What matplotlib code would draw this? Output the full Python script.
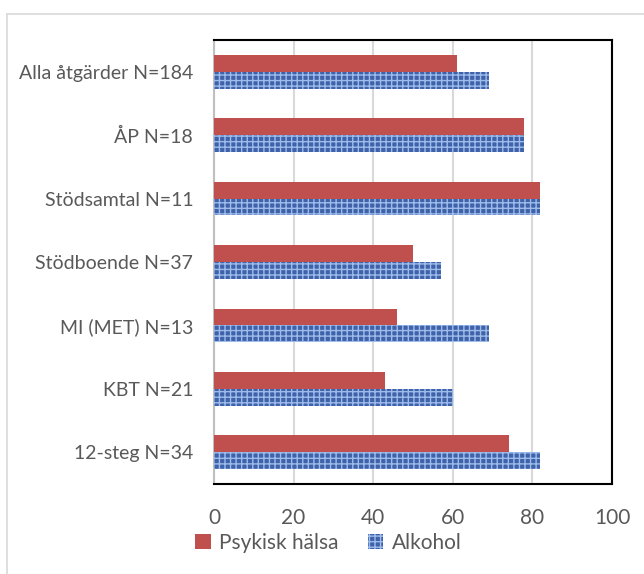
import numpy as np
import matplotlib.pyplot as plt
from matplotlib.patches import Patch
from matplotlib.lines import Line2D

categories = ['Alla åtgärder N=184', 'ÅP N=18', 'Stödsamtal N=11', 'Stödboende N=37',
              'MI (MET) N=13', 'KBT N=21', '12-steg N=34']
psykisk = [61, 78, 82, 50, 46, 43, 74]
alkohol = [69, 78, 82, 57, 69, 60, 82]
xticks = [0, 20, 40, 60, 80, 100]

red = '#c0504d'
blue = '#3f62a8'
txt = '#595959'

plt.rcParams['font.family'] = ['Lato', 'DejaVu Sans']
plt.rcParams['hatch.linewidth'] = 1.0

fig = plt.figure(figsize=(6.44, 5.74), dpi=100)
ax = fig.add_axes([214/644, 90/574, 398/644, 444/574])

y = np.arange(len(categories))
h = 0.265
ax.barh(y - h/2, psykisk, height=h, color=red, zorder=3)
ax.barh(y + h/2, alkohol, height=h, color=blue, edgecolor='#9dbcec', hatch='+++', lw=0, zorder=3)

ax.set_ylim(len(categories) - 0.5, -0.5)
ax.set_xlim(0, 100)
ax.set_yticks(y)
ax.set_yticklabels(categories)
ax.set_xticks(xticks)
ax.tick_params(axis='y', length=0, labelsize=14, colors=txt, pad=15)
ax.tick_params(axis='x', length=0, labelsize=15, colors=txt, pad=17)
ax.grid(axis='x', color='#d9d9d9', lw=1.5, zorder=0)
for s in ['top', 'right', 'bottom']:
    ax.spines[s].set_color('black')
    ax.spines[s].set_linewidth(1.5)
ax.spines['left'].set_color('#bfbfbf')
ax.spines['left'].set_linewidth(1.5)

# outer chart border
fig.add_artist(Line2D([7/644, 7/644], [0, 1 - 14/574], color='#d9d9d9', lw=1.2))
fig.add_artist(Line2D([7/644, 1], [1 - 14/574, 1 - 14/574], color='#d9d9d9', lw=1.2))

handles = [Patch(facecolor=red, label='Psykisk hälsa'),
           Patch(facecolor=blue, edgecolor='#9dbcec', hatch='+++', lw=0, label='Alkohol')]
leg = fig.legend(handles=handles, loc='center', bbox_to_anchor=(0.51, 0.054), ncol=2,
                 frameon=False, fontsize=15, handlelength=0.75, handleheight=0.75,
                 handletextpad=0.4, columnspacing=1.4, labelcolor=txt)

fig.savefig('out.png', dpi=100)
